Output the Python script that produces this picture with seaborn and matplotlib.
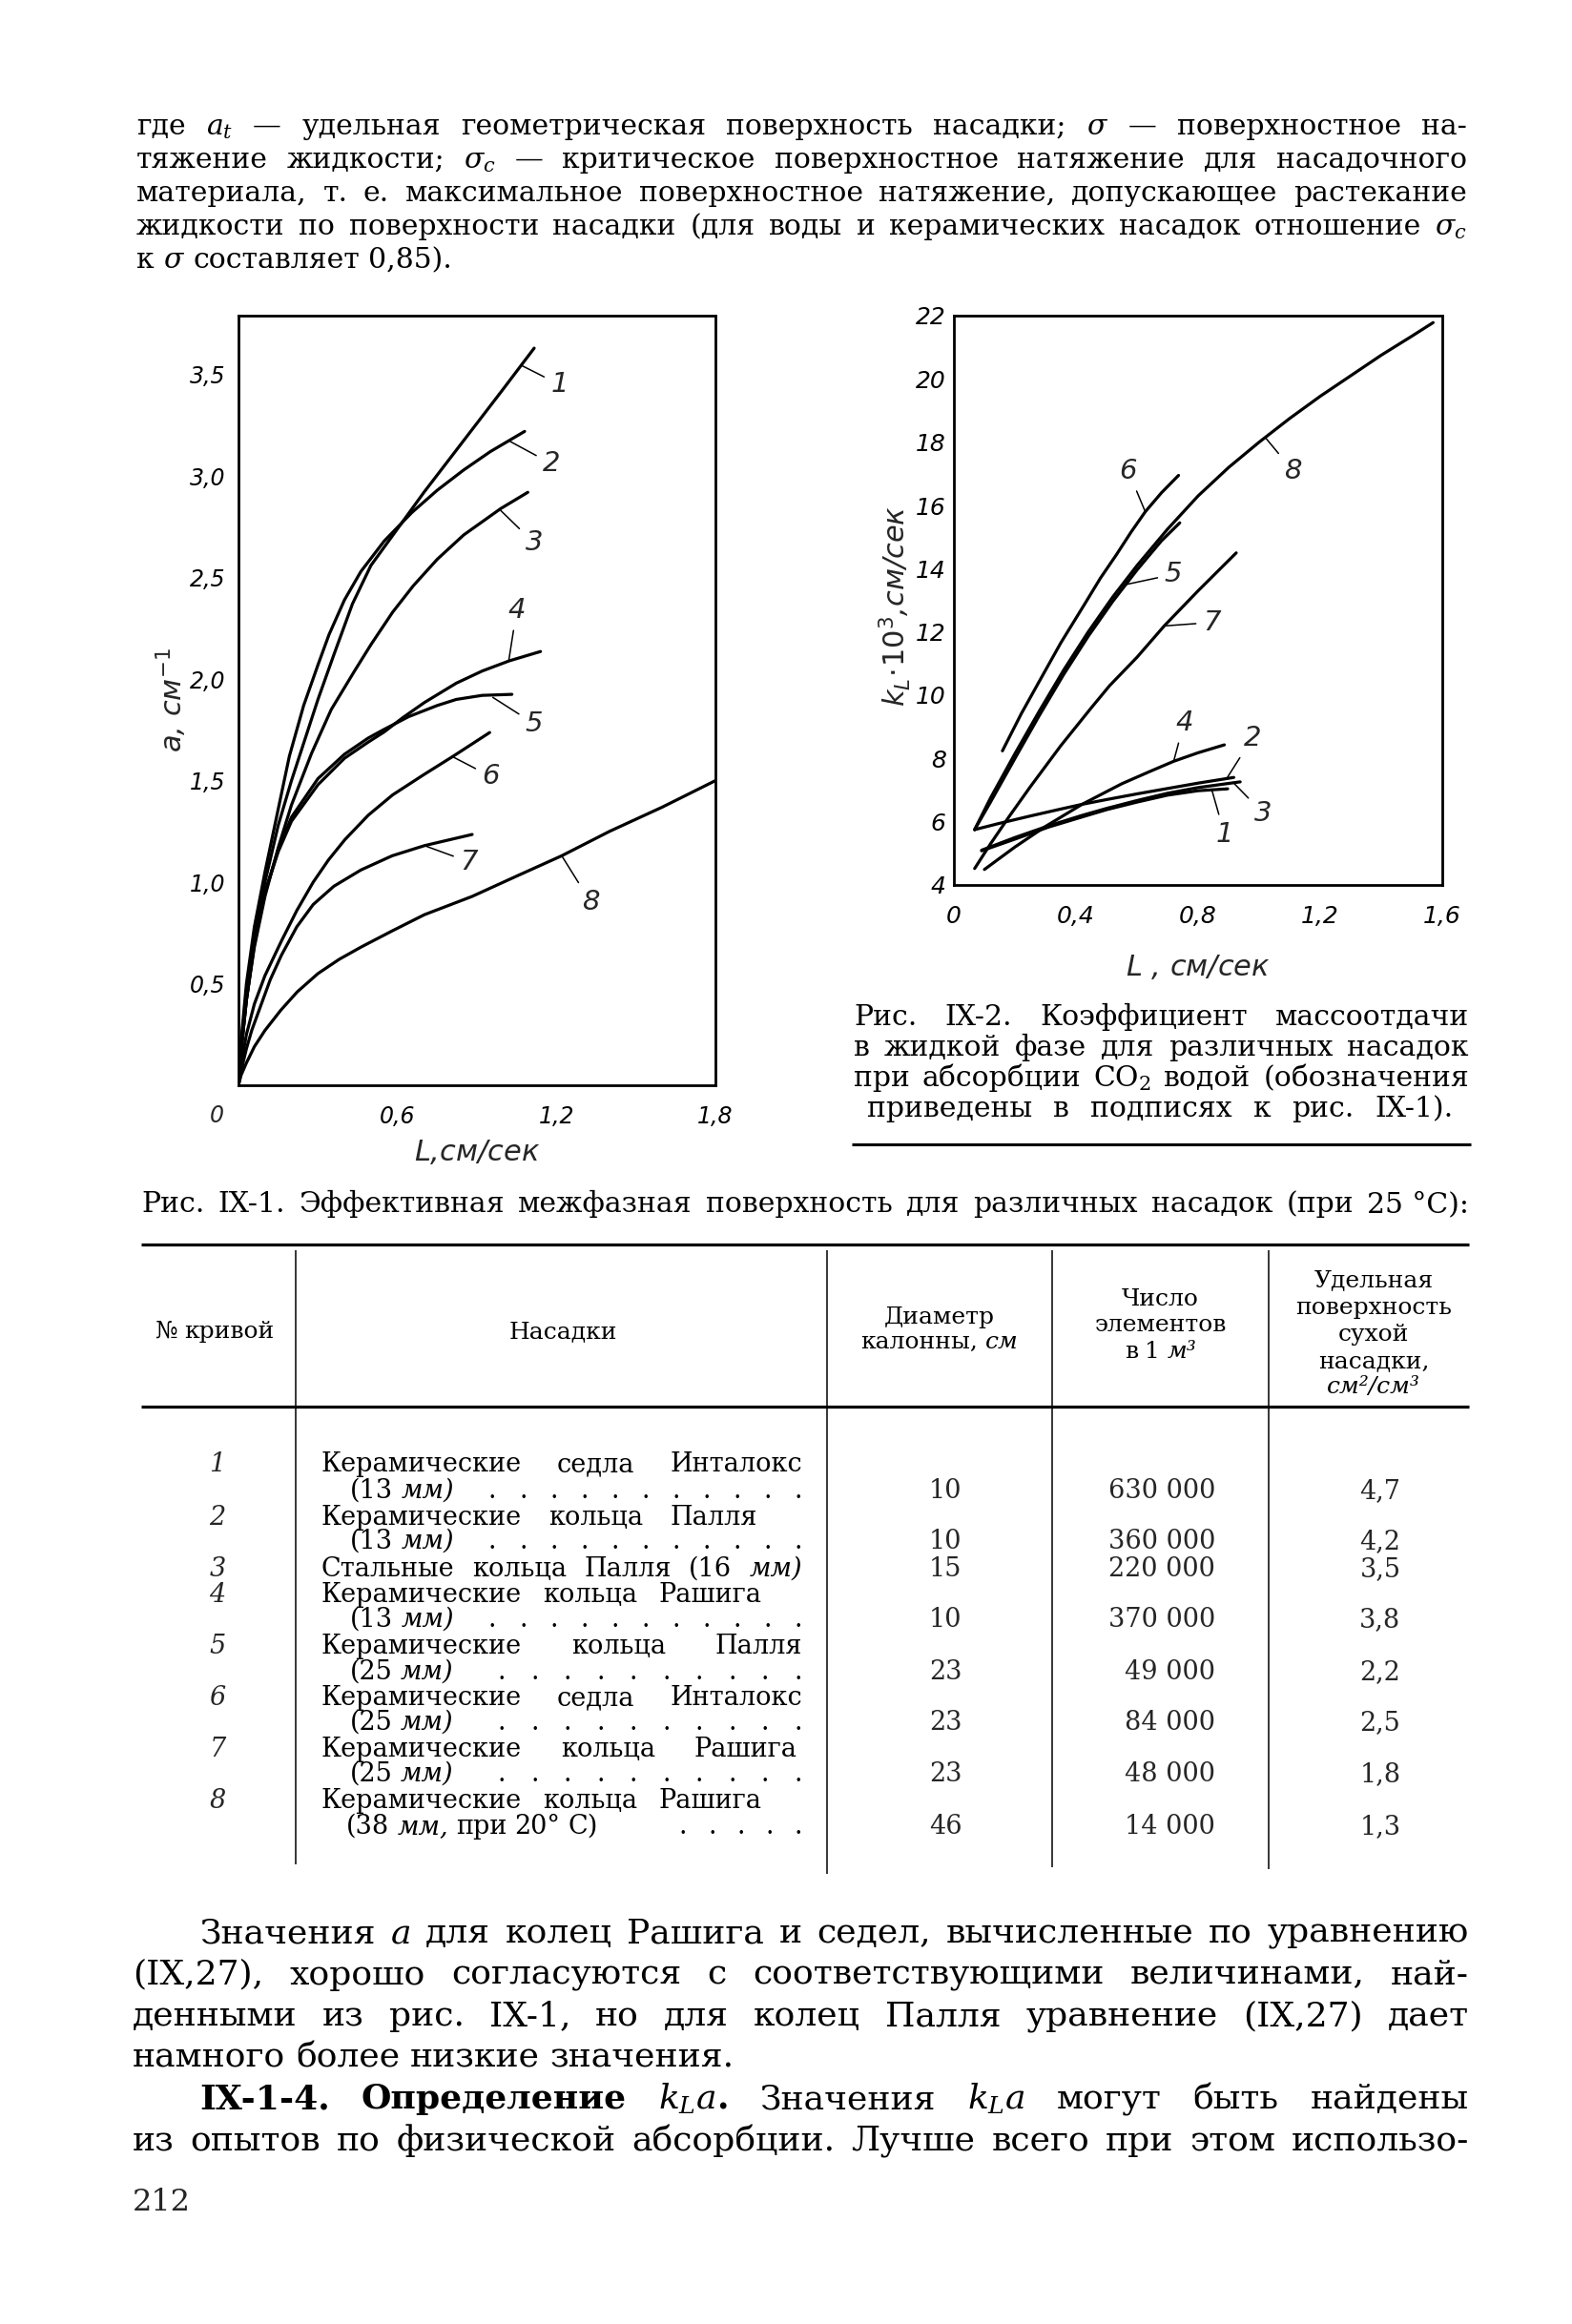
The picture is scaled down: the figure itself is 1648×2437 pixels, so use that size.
import matplotlib
matplotlib.use("Agg")
import matplotlib.pyplot as plt
import seaborn as sns
from matplotlib.lines import Line2D

# ---------------- Рис. IX-1 : a (см^-1) vs L (см/сек) ----------------
a1_L = [0, 0.01, 0.03, 0.06, 0.10, 0.15, 0.20, 0.25, 0.30, 0.36, 0.43, 0.50, 0.60, 0.70, 0.80, 0.90, 1.00, 1.116]
a1_v = [0, 0.20, 0.45, 0.72, 1.00, 1.28, 1.50, 1.70, 1.90, 2.12, 2.37, 2.56, 2.74, 2.92, 3.09, 3.26, 3.43, 3.63]
a2_L = [0, 0.01, 0.03, 0.06, 0.10, 0.15, 0.192, 0.246, 0.30, 0.342, 0.40, 0.462, 0.55, 0.654, 0.75, 0.85, 0.95, 1.08]
a2_v = [0, 0.22, 0.50, 0.78, 1.05, 1.36, 1.62, 1.87, 2.07, 2.22, 2.39, 2.53, 2.68, 2.82, 2.93, 3.03, 3.12, 3.22]
a3_L = [0, 0.01, 0.03, 0.06, 0.10, 0.15, 0.20, 0.276, 0.35, 0.438, 0.50, 0.582, 0.66, 0.75, 0.85, 0.99, 1.092]
a3_v = [0, 0.17, 0.42, 0.68, 0.93, 1.17, 1.38, 1.635, 1.85, 2.04, 2.17, 2.33, 2.46, 2.59, 2.71, 2.84, 2.92]
a4_L = [0, 0.01, 0.03, 0.06, 0.10, 0.15, 0.20, 0.30, 0.40, 0.49, 0.55, 0.62, 0.702, 0.822, 0.92, 1.022, 1.14]
a4_v = [0, 0.17, 0.42, 0.70, 0.95, 1.15, 1.30, 1.48, 1.61, 1.69, 1.74, 1.81, 1.885, 1.98, 2.04, 2.09, 2.136]
a5_L = [0, 0.01, 0.03, 0.06, 0.10, 0.15, 0.20, 0.30, 0.40, 0.49, 0.546, 0.642, 0.75, 0.822, 0.92, 1.032]
a5_v = [0, 0.17, 0.42, 0.70, 0.95, 1.16, 1.32, 1.51, 1.63, 1.71, 1.75, 1.815, 1.87, 1.90, 1.92, 1.925]
a6_L = [0, 0.01, 0.03, 0.06, 0.10, 0.162, 0.22, 0.282, 0.34, 0.402, 0.49, 0.582, 0.70, 0.81, 0.948]
a6_v = [0, 0.10, 0.25, 0.40, 0.54, 0.71, 0.86, 1.00, 1.11, 1.21, 1.33, 1.43, 1.53, 1.62, 1.737]
a7_L = [0, 0.01, 0.03, 0.05, 0.078, 0.12, 0.162, 0.22, 0.282, 0.36, 0.462, 0.58, 0.702, 0.80, 0.882]
a7_v = [0, 0.07, 0.18, 0.27, 0.37, 0.52, 0.64, 0.78, 0.89, 0.98, 1.06, 1.13, 1.18, 1.21, 1.235]
a8_L = [0, 0.01, 0.03, 0.06, 0.10, 0.16, 0.222, 0.30, 0.38, 0.462, 0.58, 0.702, 0.882, 1.05, 1.22, 1.40, 1.60, 1.80]
a8_v = [0, 0.05, 0.11, 0.19, 0.27, 0.37, 0.46, 0.55, 0.62, 0.68, 0.76, 0.84, 0.93, 1.03, 1.13, 1.25, 1.37, 1.50]

# ---------------- Рис. IX-2 : kL*10^3 (см/сек) vs L (см/сек) ----------------
k1_L = [0.091, 0.20, 0.31, 0.42, 0.50, 0.60, 0.70, 0.80, 0.897]
k1_v = [5.08, 5.45, 5.83, 6.15, 6.38, 6.62, 6.84, 6.98, 7.04]
k2_L = [0.068, 0.15, 0.25, 0.35, 0.42, 0.50, 0.60, 0.70, 0.80, 0.917]
k2_v = [5.75, 5.95, 6.18, 6.40, 6.55, 6.70, 6.88, 7.05, 7.22, 7.40]
k3_L = [0.091, 0.20, 0.31, 0.42, 0.50, 0.60, 0.70, 0.80, 0.938]
k3_v = [5.10, 5.50, 5.87, 6.20, 6.42, 6.67, 6.90, 7.08, 7.26]
k4_L = [0.10, 0.20, 0.30, 0.42, 0.55, 0.64, 0.72, 0.80, 0.886]
k4_v = [4.49, 5.20, 5.85, 6.55, 7.20, 7.58, 7.91, 8.18, 8.43]
k5_L = [0.068, 0.12, 0.20, 0.28, 0.36, 0.44, 0.52, 0.60, 0.68, 0.74]
k5_v = [5.75, 6.62, 8.00, 9.36, 10.66, 11.86, 12.96, 13.96, 14.88, 15.45]
k6_L = [0.159, 0.22, 0.273, 0.35, 0.429, 0.48, 0.533, 0.58, 0.627, 0.68, 0.736]
k6_v = [8.24, 9.40, 10.32, 11.65, 12.89, 13.70, 14.45, 15.15, 15.80, 16.40, 16.95]
k7_L = [0.068, 0.12, 0.18, 0.25, 0.35, 0.45, 0.51, 0.60, 0.69, 0.80, 0.925]
k7_v = [4.52, 5.30, 6.15, 7.10, 8.40, 9.60, 10.30, 11.20, 12.20, 13.30, 14.50]
k8_L = [0.068, 0.12, 0.20, 0.28, 0.36, 0.44, 0.52, 0.60, 0.70, 0.80, 0.90, 1.00, 1.10, 1.20, 1.30, 1.40, 1.50, 1.57]
k8_v = [5.75, 6.75, 8.15, 9.50, 10.8, 12.0, 13.1, 14.1, 15.25, 16.3, 17.2, 18.0, 18.75, 19.45, 20.1, 20.75, 21.35, 21.78]

curve_names = ["1", "2", "3", "4", "5", "6", "7", "8"]

left_xticks = [0, 0.6, 1.2, 1.8]
left_xticklabels = ["", "0,6", "1,2", "1,8"]
left_yticks = [0.5, 1.0, 1.5, 2.0, 2.5, 3.0, 3.5]
left_yticklabels = ["0,5", "1,0", "1,5", "2,0", "2,5", "3,0", "3,5"]
right_xticks = [0, 0.4, 0.8, 1.2, 1.6]
right_xticklabels = ["0", "0,4", "0,8", "1,2", "1,6"]
right_yticks = [4, 6, 8, 10, 12, 14, 16, 18, 20, 22]
right_yticklabels = ["4", "6", "8", "10", "12", "14", "16", "18", "20", "22"]

# table data
tbl_no = ["1", "2", "3", "4", "5", "6", "7", "8"]
tbl_diam = ["10", "10", "15", "10", "23", "23", "23", "46"]
tbl_count = ["630 000", "360 000", "220 000", "370 000", "49 000", "84 000", "48 000", "14 000"]
tbl_surf = ["4,7", "4,2", "3,5", "3,8", "2,2", "2,5", "1,8", "1,3"]

# ---------------- style ----------------
sns.set_theme(style="white")
plt.rcParams["font.family"] = ["DejaVu Serif"]
plt.rcParams["mathtext.fontset"] = "dejavuserif"
plt.rcParams["axes.linewidth"] = 2.0
plt.rcParams["axes.edgecolor"] = "black"

W, H = 1649, 2437
fig = plt.figure(figsize=(W / 100, H / 100), dpi=100)
fig.patch.set_facecolor("white")
renderer = fig.canvas.get_renderer()


def fx(x):
    return x / W


def fy(y):
    return 1 - y / H


def rule(x0, x1, y0, y1, lw):
    fig.add_artist(Line2D([fx(x0), fx(x1)], [fy(y0), fy(y1)], transform=fig.transFigure,
                          color="black", lw=lw, solid_capstyle="butt"))


def text_line(tokens, x0, x1, ybase, size, justify=True, align="left", **kw):
    objs = []
    for tok in tokens:
        if isinstance(tok, tuple):
            s, extra = tok
        else:
            s, extra = tok, {}
        props = dict(kw)
        props.update(extra)
        t = fig.text(0, fy(ybase), s, fontsize=size, va="baseline", ha="left", color="black", **props)
        objs.append(t)

    def widths():
        return [o.get_window_extent(renderer).width for o in objs]

    ws = widths()
    n = len(objs)
    space = size * 100 / 72 * 0.30
    if justify and n > 1:
        need = sum(ws) + 0.7 * space * (n - 1)
        if need > (x1 - x0):
            f = ((x1 - x0) - 0.7 * space * (n - 1)) / sum(ws)
            for o in objs:
                o.set_fontsize(o.get_fontsize() * f)
            ws = widths()
        gap = ((x1 - x0) - sum(ws)) / (n - 1)
        x = x0
    else:
        gap = space
        total = sum(ws) + gap * (n - 1)
        if align == "left":
            x = x0
        elif align == "center":
            x = (x0 + x1) / 2 - total / 2
        else:
            x = x1 - total
    for o, w in zip(objs, ws):
        o.set_x(fx(x))
        x += w + gap
    return objs


# ---------------- top paragraph ----------------
TP = 21.5
para_top = [
    ["где", r"$a_t$", "—", "удельная", "геометрическая", "поверхность", "насадки;", r"$\sigma$", "—",
     "поверхностное", "на-"],
    ["тяжение", "жидкости;", r"$\sigma_c$", "—", "критическое", "поверхностное", "натяжение", "для",
     "насадочного"],
    ["материала,", "т.", "е.", "максимальное", "поверхностное", "натяжение,", "допускающее", "растекание"],
    ["жидкости", "по", "поверхности", "насадки", "(для", "воды", "и", "керамических", "насадок",
     "отношение", r"$\sigma_c$"],
    ["к", r"$\sigma$", "составляет", "0,85)."],
]
for i, toks in enumerate(para_top):
    text_line(toks, 143, 1538, 141 + 35 * i, TP, justify=(i < 4))

# ---------------- left chart (Рис. IX-1) ----------------
axL = fig.add_axes([fx(250), fy(1138), (750 - 250) / W, (1138 - 331) / H])
left_L = [a1_L, a2_L, a3_L, a4_L, a5_L, a6_L, a7_L, a8_L]
left_v = [a1_v, a2_v, a3_v, a4_v, a5_v, a6_v, a7_v, a8_v]
for Lx, Vy in zip(left_L, left_v):
    sns.lineplot(x=Lx, y=Vy, ax=axL, color="black", linewidth=2.3, estimator=None, sort=False, legend=False)
axL.set_xlim(0, 1.8)
axL.set_ylim(0, 3.79)
axL.set_xticks(left_xticks)
axL.set_xticklabels(left_xticklabels)
axL.set_yticks(left_yticks)
axL.set_yticklabels(left_yticklabels)
axL.tick_params(axis="both", direction="in", length=13, width=1.8, labelsize=17, colors="black")
axL.tick_params(axis="x", pad=15)
axL.tick_params(axis="y", pad=10)
axL.text(-0.045, -0.04, "0", transform=axL.transAxes, ha="center", va="center", fontsize=17,
         fontstyle="italic", family="DejaVu Sans")
axL.set_xlabel(r"$L$,см/сек", fontsize=22, fontstyle="italic", family="DejaVu Sans",
               math_fontfamily="dejavusans", va="center")
axL.xaxis.set_label_coords(0.5, -0.087)
axL.set_ylabel(r"$a$, см$^{-1}$", fontsize=22, fontstyle="italic", family="DejaVu Sans",
               math_fontfamily="dejavusans", va="center")
axL.yaxis.set_label_coords(-0.14, 0.5)

left_lab_xy = [(1.068, 3.545), (1.026, 3.17), (0.99, 2.83), (1.02, 2.09), (0.96, 1.91), (0.805, 1.62),
               (0.702, 1.18), (1.22, 1.13)]
left_lab_txt = [(1.212, 3.45), (1.182, 3.06), (1.116, 2.67), (1.05, 2.34), (1.116, 1.78), (0.953, 1.52),
                (0.87, 1.10), (1.33, 0.90)]

# ---------------- right chart (Рис. IX-2) ----------------
axR = fig.add_axes([fx(1000), fy(928), (1512 - 1000) / W, (928 - 331) / H])
right_L = [k1_L, k2_L, k3_L, k4_L, k5_L, k6_L, k7_L, k8_L]
right_v = [k1_v, k2_v, k3_v, k4_v, k5_v, k6_v, k7_v, k8_v]
for Lx, Vy in zip(right_L, right_v):
    sns.lineplot(x=Lx, y=Vy, ax=axR, color="black", linewidth=2.3, estimator=None, sort=False, legend=False)
axR.set_xlim(0, 1.6)
axR.set_ylim(4, 22)
axR.set_xticks(right_xticks)
axR.set_xticklabels(right_xticklabels)
axR.set_yticks(right_yticks)
axR.set_yticklabels(right_yticklabels)
axR.tick_params(axis="both", direction="in", length=14, width=1.8, labelsize=18, colors="black")
axR.tick_params(axis="x", pad=15)
axR.tick_params(axis="y", pad=6)
axR.set_xlabel(r"$L$ , см/сек", fontsize=22, fontstyle="italic", family="DejaVu Sans",
               math_fontfamily="dejavusans", va="center")
axR.xaxis.set_label_coords(0.5, -0.144)
axR.set_ylabel(r"$k_L\!\cdot\!10^3$,см/сек", fontsize=22, fontstyle="italic", family="DejaVu Sans",
               math_fontfamily="dejavusans", va="center")
axR.yaxis.set_label_coords(-0.121, 0.49)

right_lab_xy = [(0.845, 7.01), (0.894, 7.37), (0.915, 7.24), (0.72, 7.91), (0.564, 13.5), (0.627, 15.8),
                (0.689, 12.19), (1.02, 18.15)]
right_lab_txt = [(0.887, 5.59), (0.978, 8.65), (1.013, 6.27), (0.754, 9.13), (0.719, 13.82), (0.571, 17.09),
                 (0.845, 12.3), (1.111, 17.09)]

for ax, xys, txts in [(axL, left_lab_xy, left_lab_txt), (axR, right_lab_xy, right_lab_txt)]:
    for name, xy, tp in zip(curve_names, xys, txts):
        ax.annotate(name, xy=xy, xytext=tp, textcoords="data", ha="center", va="center",
                    fontsize=21, fontstyle="italic", family="DejaVu Sans",
                    arrowprops=dict(arrowstyle="-", lw=1.1, color="black", shrinkA=3, shrinkB=0))
    for lbl in ax.get_xticklabels() + ax.get_yticklabels():
        lbl.set_fontstyle("italic")
        lbl.set_family("DejaVu Sans")
    for sp in ax.spines.values():
        sp.set_visible(True)
        sp.set_color("black")
        sp.set_linewidth(2.0)
    ax.grid(False)
    ax.set_facecolor("white")

# ---------------- caption Рис. IX-2 ----------------
CP = 21.5
cap2 = [
    ["Рис.", "IX-2.", "Коэффициент", "массоотдачи"],
    ["в", "жидкой", "фазе", "для", "различных", "насадок"],
    ["при", "абсорбции", r"CO$_2$", "водой", "(обозначения"],
    ["приведены", "в", "подписях", "к", "рис.", "IX-1)."],
]
for i, toks in enumerate(cap2):
    if i < 3:
        text_line(toks, 895, 1540, 1075 + 32 * i, CP)
    else:
        text_line(toks, 909, 1524, 1075 + 32 * i, CP)
rule(893, 1542, 1200, 1200, 2.2)

# ---------------- caption Рис. IX-1 ----------------
text_line(["Рис.", "IX-1.", "Эффективная", "межфазная", "поверхность", "для", "различных", "насадок",
           "(при", "25 °С):"], 148, 1540, 1271, CP)

# ---------------- table ----------------
rule(148, 1540, 1305, 1305, 2.3)
rule(148, 1540, 1475, 1475, 2.3)
for xv, y1 in [(310, 1955), (867, 1965), (1103, 1958), (1330, 1960)]:
    rule(xv, xv, 1311, y1, 1.1)

HS = 18
text_line(["№", "кривой"], 150, 300, 1403, HS, justify=False, align="center")
text_line(["Насадки"], 320, 860, 1403, HS, justify=False, align="center")
text_line(["Диаметр"], 872, 1098, 1388, HS, justify=False, align="center")
text_line(["калонны,", ("см", {"style": "italic"})], 872, 1098, 1414, HS, justify=False, align="center")
text_line(["Число"], 1108, 1325, 1369, HS, justify=False, align="center")
text_line(["элементов"], 1108, 1325, 1396, HS, justify=False, align="center")
text_line(["в", "1", ("м³", {"style": "italic"})], 1108, 1325, 1424, HS, justify=False, align="center")
text_line(["Удельная"], 1335, 1545, 1349, HS, justify=False, align="center")
text_line(["поверхность"], 1335, 1545, 1378, HS, justify=False, align="center")
text_line(["сухой"], 1335, 1545, 1406, HS, justify=False, align="center")
text_line(["насадки,"], 1335, 1545, 1434, HS, justify=False, align="center")
text_line([("см²/см³", {"style": "italic"})], 1335, 1545, 1461, HS, justify=False, align="center")

BS = 19.5
dots11 = ["."] * 11
dots10 = ["."] * 10
rows_first = [
    (["Керамические", "седла", "Инталокс"], 841, 1543),
    (["Керамические", "кольца", "Палля"], 794, 1599),
    (["Стальные", "кольца", "Палля", "(16", ("мм)", {"style": "italic"})], 841, 1653),
    (["Керамические", "кольца", "Рашига"], 799, 1680),
    (["Керамические", "кольца", "Палля"], 841, 1734),
    (["Керамические", "седла", "Инталокс"], 841, 1788),
    (["Керамические", "кольца", "Рашига"], 836, 1842),
    (["Керамические", "кольца", "Рашига"], 799, 1896),
]
for toks, xr, yb in rows_first:
    text_line(toks, 337, xr, yb, BS)

second = [
    ("(13", 1571, dots11), ("(13", 1624, dots11), ("(13", 1706, dots11),
    ("(25", 1761, dots10), ("(25", 1814, dots10), ("(25", 1868, dots10),
]
for num, yb, dots in second:
    text_line([num, ("мм)", {"style": "italic"})], 367, 500, yb, BS, justify=False)
    text_line(dots, 512 if len(dots) == 11 else 522, 841, yb, BS)
text_line(["(38", ("мм,", {"style": "italic"}), "при", "20°", "С)"], 363, 700, 1923, BS, justify=False)
text_line(["."] * 5, 712, 841, 1923, BS)

no_y = [1543, 1599, 1653, 1680, 1734, 1788, 1842, 1896]
val_y = [1571, 1624, 1653, 1706, 1761, 1814, 1868, 1923]
for no, y in zip(tbl_no, no_y):
    fig.text(fx(228), fy(y), no, fontsize=BS, fontstyle="italic", ha="center", va="baseline")
for d, c, s, y in zip(tbl_diam, tbl_count, tbl_surf, val_y):
    fig.text(fx(991), fy(y), d, fontsize=BS, ha="center", va="baseline")
    fig.text(fx(1274), fy(y), c, fontsize=BS, ha="right", va="baseline")
    fig.text(fx(1447), fy(y), s, fontsize=BS, ha="center", va="baseline")

# ---------------- bottom text ----------------
BT = 26
bold = {"weight": "bold"}
bottom = [
    (["Значения", r"$a$", "для", "колец", "Рашига", "и", "седел,", "вычисленные", "по", "уравнению"], 209, True),
    (["(IX,27),", "хорошо", "согласуются", "с", "соответствующими", "величинами,", "най-"], 139, True),
    (["денными", "из", "рис.", "IX-1,", "но", "для", "колец", "Палля", "уравнение", "(IX,27)", "дает"], 139, True),
    (["намного", "более", "низкие", "значения."], 139, False),
    ([("IX-1-4.", bold), ("Определение", bold), (r"$k_La$.", bold), "Значения", r"$k_La$", "могут", "быть",
      "найдены"], 209, True),
    (["из", "опытов", "по", "физической", "абсорбции.", "Лучше", "всего", "при", "этом", "использо-"], 139, True),
]
for i, (toks, x0, just) in enumerate(bottom):
    text_line(toks, x0, 1540, 2037 + 43.6 * i, BT, justify=just)

fig.text(fx(139), fy(2318), "212", fontsize=23, ha="left", va="baseline")

fig.savefig("out.png", dpi=100, facecolor="white")
